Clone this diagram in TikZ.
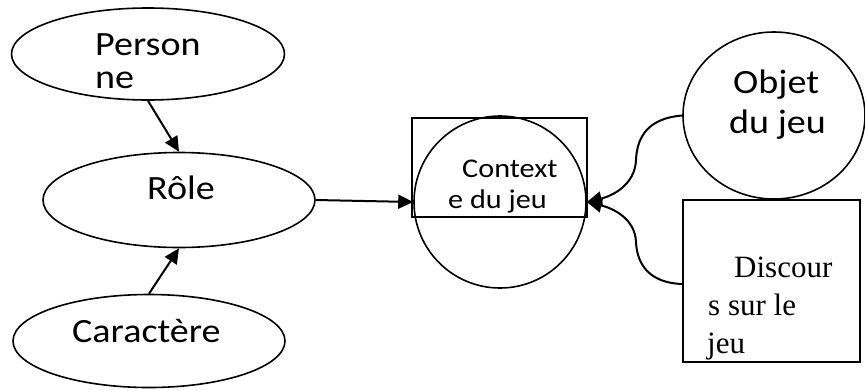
\documentclass[tikz,border=0pt]{standalone}
\usepackage{fontspec}
\usetikzlibrary{shapes.geometric,arrows.meta}
\newfontfamily\calib[FakeStretch=1.12]{Carlito}
\newfontfamily\tms{Liberation Serif}
\tikzset{
  shape line/.style={draw=black, line width=1.6pt},
  oval/.style={shape line, ellipse, inner sep=0pt},
  bigtxt/.style={inner sep=0pt, anchor=base west, font={\calib\fontsize{34}{34}\selectfont}},
  midtxt/.style={inner sep=0pt, anchor=base west, font={\calib\fontsize{27}{27}\selectfont}},
  sertxt/.style={inner sep=0pt, anchor=base west, font={\tms\fontsize{31}{31}\selectfont}},
  link/.style={line width=2pt, -{Triangle[length=15pt,width=14pt]}}
}
\begin{document}
\begin{tikzpicture}[x=1pt,y=-1pt]
  \useasboundingbox (0,0) rectangle (865,389);

  % left column: three ovals
  \node[oval, minimum width=273pt, minimum height=92pt] (personne) at (148,54) {};
  \node[oval, minimum width=272pt, minimum height=95pt] (role) at (179,200) {};
  \node[oval, minimum width=272pt, minimum height=93pt] (caractere) at (149,341) {};

  \node[bigtxt] (personneA) at (95,55) {Person};
  \node[bigtxt] (personneB) at (95,88) {ne};
  \node[bigtxt] (roleT) at (147,199) {Rôle};
  \node[bigtxt] (caractereT) at (72,342) {Caractère};

  % centre: box over circle
  \node[shape line, circle, minimum size=172pt, inner sep=0pt] (ctxCircle) at (500,202) {};
  \node[shape line, rectangle, minimum width=175pt, minimum height=99pt, inner sep=0pt] (ctxRect) at (499.5,167.5) {};
  \node[midtxt] (ctxA) at (462,177) {Context};
  \node[midtxt] (ctxB) at (448,208) {e du jeu};

  % right column
  \node[oval, minimum width=182pt, minimum height=167pt] (objet) at (774,115.5) {};
  \node[bigtxt] (objetA) at (733,93) {Objet};
  \node[bigtxt] (objetB) at (729,133) {du jeu};

  \node[shape line, rectangle, minimum width=177pt, minimum height=162pt, inner sep=0pt] (discours) at (771.5,281) {};
  \node[sertxt] (discA) at (734,277) {Discour};
  \node[sertxt] (discB) at (708,315) {s sur le};
  \node[sertxt] (discC) at (707,353) {jeu};

  % connectors
  \draw[link] (personne.south) -- (role.north);
  \draw[link] (caractere.north) -- (role.south);
  \draw[link] (role.east) -- (ctxCircle.west);

  \coordinate (bendA) at (636,160);
  \coordinate (bendB) at (636,242);
  \draw[link] (objet.west) .. controls (650,118) and (637,135) .. (bendA)
    .. controls (635,185) and (612,196) .. (ctxCircle.east);
  \draw[link] (discours.west |- 0,284) .. controls (650,283) and (637,265) .. (bendB)
    .. controls (635,218) and (612,208) .. (ctxCircle.east);
\end{tikzpicture}
\end{document}
